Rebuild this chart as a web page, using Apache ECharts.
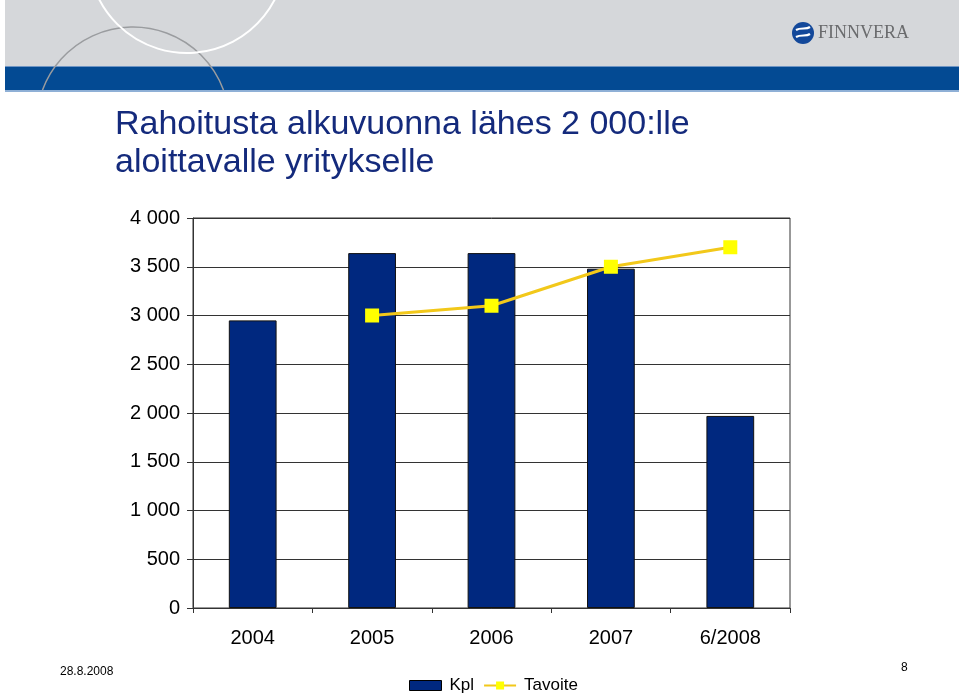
<!DOCTYPE html>
<html>
<head>
<meta charset="utf-8">
<script src="https://cdn.jsdelivr.net/npm/echarts@6/dist/echarts.min.js"></script>
<style>
html,body{margin:0;padding:0;background:#fff;}
#chart{width:959px;height:695px;}
</style>
</head>
<body>
<div id="chart"></div>
<script>
var categories = ['2004', '2005', '2006', '2007', '6/2008'];
var kplValues = [2950, 3640, 3640, 3480, 1970];
var tavoiteValues = [null, 3000, 3100, 3500, 3700];
var yTicks = [0, 500, 1000, 1500, 2000, 2500, 3000, 3500, 4000];

function fmt(v) {
  var s = String(v);
  return s.replace(/\B(?=(\d{3})+(?!\d))/g, ' ');
}

var chart = echarts.init(document.getElementById('chart'));
var font = '"Liberation Sans", Arial, sans-serif';

chart.setOption({
  backgroundColor: '#ffffff',
  animation: false,
  textStyle: { fontFamily: font },
  graphic: [
    { type: 'rect', shape: { x: 5, y: 0, width: 954, height: 67 }, style: { fill: '#d5d7da' }, z: 0 },
    { type: 'rect', shape: { x: 5, y: 67, width: 954, height: 23 }, style: { fill: '#034a93' }, z: 0 },
    { type: 'rect', shape: { x: 5, y: 66, width: 954, height: 1 }, style: { fill: '#6f95c4' }, z: 0 },
    { type: 'rect', shape: { x: 5, y: 90, width: 954, height: 2 }, style: { fill: '#8fb0d6' }, z: 0 },
    { type: 'arc', shape: { cx: 133, cy: 123.5, r: 96.5, startAngle: 3.496, endAngle: 5.928, clockwise: true },
      style: { stroke: '#9a9c9f', lineWidth: 1.5, fill: null }, z: 1 },
    { type: 'arc', shape: { cx: 187, cy: -45.7, r: 98.7, startAngle: 0.3, endAngle: 2.84, clockwise: true },
      style: { stroke: '#ffffff', lineWidth: 2, fill: null }, z: 1 },
    { type: 'circle', shape: { cx: 803, cy: 33, r: 11 }, style: { fill: '#13489a' }, z: 2 },
    { type: 'bezierCurve', shape: { x1: 796, y1: 30, x2: 810, y2: 27, cpx1: 801, cpy1: 27, cpx2: 806, cpy2: 30 },
      style: { stroke: '#ffffff', lineWidth: 2.2, fill: null }, z: 3 },
    { type: 'bezierCurve', shape: { x1: 796, y1: 37, x2: 810, y2: 34, cpx1: 801, cpy1: 34, cpx2: 806, cpy2: 37 },
      style: { stroke: '#ffffff', lineWidth: 2.2, fill: null }, z: 3 },
    { type: 'text', left: 818, top: 24, style: { text: 'FINNVERA', font: '18px "Liberation Serif", "Times New Roman", serif', fill: '#6a6b6d' }, z: 3 },
    { type: 'text', left: 115, top: 106, style: { text: 'Rahoitusta alkuvuonna lähes 2 000:lle\naloittavalle yritykselle', font: '34px ' + font, fill: '#142a7c', lineHeight: 38 }, z: 3 },
    { type: 'text', left: 60, top: 666, style: { text: '28.8.2008', font: '12px ' + font, fill: '#000' }, z: 3 },
    { type: 'text', left: 901, top: 662, style: { text: '8', font: '12px ' + font, fill: '#000' }, z: 3 }
  ],
  legend: {
    left: 409,
    top: 677,
    padding: 0,
    itemWidth: 32,
    itemHeight: 10,
    itemGap: 9,
    textStyle: { fontSize: 17, color: '#000', fontFamily: font, padding: [0, 0, 0, 3] },
    data: [
      { name: 'Kpl', icon: 'rect', itemStyle: { borderColor: '#000', borderWidth: 1 } },
      { name: 'Tavoite' }
    ]
  },
  grid: {
    left: 193, right: 169, top: 218, bottom: 87,
    show: true, borderColor: '#333', borderWidth: 1, backgroundColor: 'transparent'
  },
  xAxis: {
    type: 'category',
    data: categories,
    axisLine: { lineStyle: { color: '#333', width: 1 } },
    axisTick: { show: true, alignWithLabel: false, length: 5, lineStyle: { color: '#333' } },
    axisLabel: { fontSize: 20, color: '#000', margin: 20, fontFamily: font }
  },
  yAxis: {
    type: 'value',
    min: 0, max: 4000, interval: 500,
    axisLine: { show: true, lineStyle: { color: '#333', width: 1 } },
    axisTick: { show: true, length: 6, lineStyle: { color: '#333' } },
    splitLine: { show: true, lineStyle: { color: '#333', width: 1 } },
    axisLabel: { fontSize: 20, color: '#000', margin: 13, fontFamily: font,
      formatter: function (v) { return fmt(v); } }
  },
  series: [
    {
      name: 'Kpl',
      type: 'bar',
      data: kplValues,
      barWidth: '40%',
      itemStyle: { color: '#00287f', borderColor: '#111', borderWidth: 1 },
      z: 2
    },
    {
      name: 'Tavoite',
      type: 'line',
      data: tavoiteValues,
      connectNulls: false,
      symbol: 'rect',
      symbolSize: 14,
      lineStyle: { color: '#f2c81a', width: 3 },
      itemStyle: { color: '#ffff00', borderColor: '#f2d20a', borderWidth: 0 },
      z: 3
    }
  ]
});
</script>
</body>
</html>
